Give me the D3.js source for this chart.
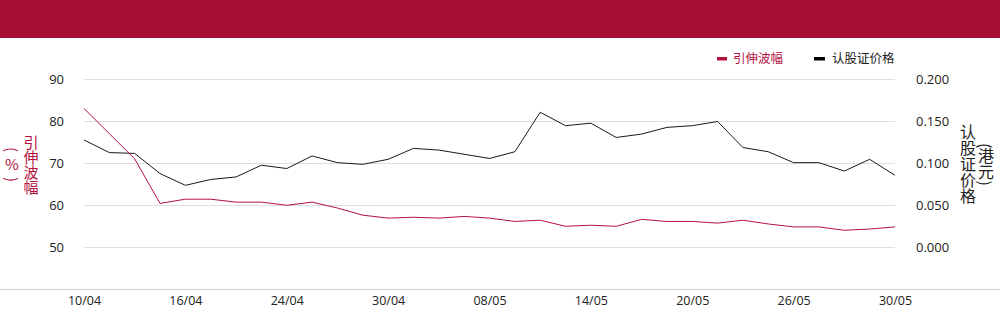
<!DOCTYPE html>
<html><head><meta charset="utf-8">
<script src="https://cdn.jsdelivr.net/npm/d3@7"></script>
<style>
html,body{margin:0;padding:0;background:#fff;}
#wrap{position:relative;width:1000px;height:324px;overflow:hidden;}
svg{display:block;font-family:"Open Sans","Noto Sans","Noto Sans CJK SC",sans-serif;}
.vt{position:absolute;font-family:"Noto Sans CJK SC",sans-serif;text-orientation:mixed;text-align:center;white-space:normal;}
.up{text-orientation:upright;}
</style></head>
<body>
<div id="wrap"><svg id="c" width="1000" height="324"></svg></div>
<script>
const dates = ["10/04","11/04","14/04","15/04","16/04","17/04","22/04","23/04","24/04","25/04","28/04","29/04","30/04","02/05","06/05","07/05","08/05","09/05","12/05","13/05","14/05","15/05","16/05","19/05","20/05","21/05","22/05","23/05","26/05","27/05","28/05","29/05","30/05"];
const tickDates = ["10/04","16/04","24/04","30/04","08/05","14/05","20/05","26/05","30/05"];
const impliedVol = [83.1,77.1,71.1,60.5,61.5,61.5,60.8,60.8,60.05,60.8,59.4,57.7,57.0,57.2,57.0,57.4,57.0,56.2,56.5,55.05,55.3,55.05,56.7,56.2,56.2,55.8,56.5,55.6,54.9,54.9,54.1,54.4,54.9];
const warrantPrice = [0.128,0.113,0.112,0.088,0.074,0.081,0.084,0.098,0.094,0.109,0.101,0.099,0.105,0.118,0.116,0.111,0.106,0.114,0.161,0.145,0.148,0.131,0.135,0.143,0.145,0.150,0.119,0.114,0.101,0.101,0.091,0.105,0.086];
const leftTicks = [50,60,70,80,90];
const rightTicks = [0,0.05,0.1,0.15,0.2];
const seriesNames = ["引伸波幅","认股证价格"];
const leftTitle = ["引伸波幅","(","%",")"];
const rightTitle = ["认股证价格","(港元)"];

const RED = "#b3123d", BLACK = "#1a1a1a";
const svg = d3.select("#c");

svg.append("rect").attr("x",0).attr("y",0).attr("width",1000).attr("height",38).attr("fill","#a50e32");

const x = d3.scalePoint().domain(dates).range([84,895]);
const yL = d3.scaleLinear().domain([50,90]).range([247.5,79.5]);
const yR = d3.scaleLinear().domain([0,0.2]).range([247.5,79.5]);

// grid
svg.append("g").selectAll("line").data(leftTicks).join("line")
  .attr("x1",84).attr("x2",895).attr("y1",d=>Math.floor(yL(d))+0.5).attr("y2",d=>Math.floor(yL(d))+0.5)
  .attr("stroke","#dedede").attr("stroke-width",1);

// bottom line
svg.append("line").attr("x1",0).attr("x2",1000).attr("y1",289.5).attr("y2",289.5).attr("stroke","#cfcfcf");

// left axis
const gl = svg.append("g").attr("transform","translate(64,0)")
  .call(d3.axisLeft(yL).tickValues(leftTicks).tickSize(0).tickPadding(0).tickFormat(d3.format("d")));
gl.select(".domain").remove();
gl.selectAll("text").attr("font-size",13).attr("fill","#222").attr("font-family","Open Sans, Noto Sans, sans-serif");

// right axis
const gr = svg.append("g").attr("transform","translate(916,0)")
  .call(d3.axisRight(yR).tickValues(rightTicks).tickSize(0).tickPadding(0).tickFormat(d3.format(".3f")));
gr.select(".domain").remove();
gr.selectAll("text").attr("font-size",13).attr("fill","#222").attr("font-family","Open Sans, Noto Sans, sans-serif");

// x axis
const gx = svg.append("g").attr("transform","translate(0,296)")
  .call(d3.axisBottom(x).tickValues(tickDates).tickSize(0).tickPadding(0));
gx.select(".domain").remove();
gx.selectAll("text").attr("font-size",12.5).attr("fill","#222").attr("font-family","Open Sans, Noto Sans, sans-serif");

// lines
svg.append("path").datum(warrantPrice)
  .attr("fill","none").attr("stroke",BLACK).attr("stroke-width",1)
  .attr("d",d3.line().x((d,i)=>x(dates[i])).y(d=>yR(d)));
svg.append("path").datum(impliedVol)
  .attr("fill","none").attr("stroke",RED).attr("stroke-width",1)
  .attr("d",d3.line().x((d,i)=>x(dates[i])).y(d=>yL(d)));

// legend
const leg = svg.append("g").attr("font-family","Noto Sans CJK SC, sans-serif").attr("font-size",12.5);
leg.append("rect").attr("x",717).attr("y",57).attr("width",10).attr("height",3.5).attr("fill",RED);
leg.append("text").attr("x",733).attr("y",63).attr("fill",RED).text(seriesNames[0]);
leg.append("rect").attr("x",814).attr("y",57).attr("width",11).attr("height",3.5).attr("fill","#000");
leg.append("text").attr("x",832).attr("y",63).attr("fill","#222").text(seriesNames[1]);

// vertical axis titles (HTML, vertical writing mode)
const wrap = d3.select("#wrap");
const lt = wrap.append("div").attr("class","vt")
  .style("writing-mode","vertical-rl").style("color",RED)
  .style("font-size","15px").style("line-height","19px")
  .style("left","2.5px").style("top","134px").style("width","38px").style("height","61px");
lt.append("span").text(leftTitle[0]);
lt.append("span").text(leftTitle[1]);
lt.append("span").attr("class","up").style("margin","0").style("padding-top","5px").style("padding-bottom","5px").style("display","inline-block").text(leftTitle[2]);
lt.append("span").text(leftTitle[3]);

const rt = wrap.append("div").attr("class","vt")
  .style("writing-mode","vertical-lr").style("color","#222")
  .style("font-size","16px").style("line-height","18px")
  .style("left","959px").style("top","123.5px").style("width","36px").style("height","81px");
rt.append("span").text(rightTitle[0]);
rt.append("span").text(rightTitle[1]);
</script>
</body></html>
